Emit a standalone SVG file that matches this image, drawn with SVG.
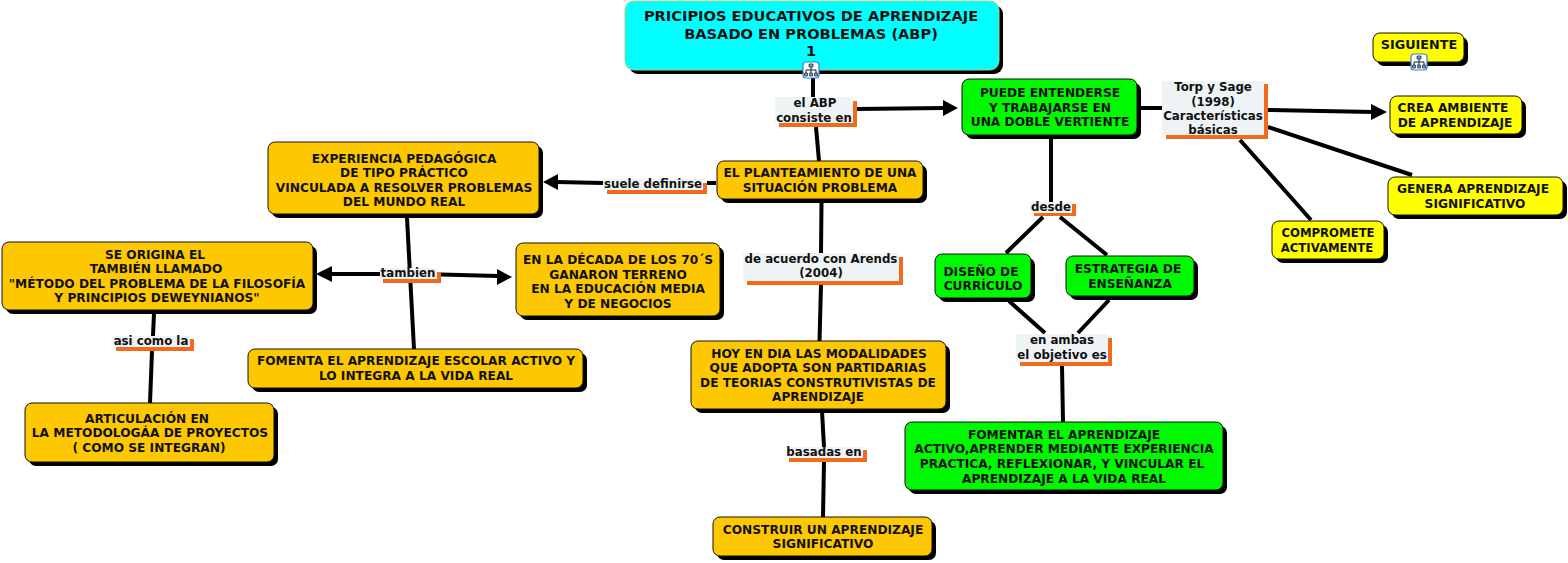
<svg xmlns="http://www.w3.org/2000/svg" width="1568" height="563" viewBox="0 0 1568 563">
<style>
text{font-family:"DejaVu Sans","Liberation Sans",sans-serif;font-weight:700;font-size:12.2px;fill:#111;text-anchor:middle}
.t{font-size:14.6px}
.l{font-size:11.8px}
.w{font-size:12.8px}
.v{font-size:11.7px}
.c{fill:none;stroke:#000;stroke-width:4}
.a{fill:#000}
.s{fill:#000}
.n{stroke:#111;stroke-width:1}
.o{fill:#fec800}.g{fill:#00f800}.y{fill:#ffff00}.b{fill:#00ffff;stroke:#a5d080}
.lb{fill:#eef3f5}.lo{fill:#f26a1b}
</style>
<defs>
<g id="ic"><rect x="-8" y="-8" width="16" height="16" rx="3" fill="#fff" stroke="#3a7fd0" stroke-width="1.200"/><path d="M-5 4v-4h10v4M0-3v7" fill="none" stroke="#123" stroke-width="1"/><path d="M-2-6h4v3h-4zM-6.500 3h3v3h-3zM-1.500 3h3v3h-3zM3.500 3h3v3h-3z" fill="#7d9cc8" stroke="#123" stroke-width=".7"/></g>
</defs>
<rect width="1568" height="563" fill="#fff"/>
<g id="connectors">
<path class="c" d="M813 72L813 97M816 127L819 161M857 109L944 108M707 183L716 183M603 183L557 182M821.500 203L821 253M821 285L819.500 341M822 411L824 447M824 462L823 517M407 218L414 349M331 274L380 274M441 274.500L498 276M154 313L153 336M152 351L150 403M1051 137L1051 202M1043 217L1006 253M1060 217L1107 255M1009 301L1045 333M1109 300L1078 333M1062 366L1063 422M1140 108L1162 108M1268 110L1373 112M1268 127L1412 175M1240 140L1311 220"/>
<path class="a" d="M958 108L943 100V116ZM543 182L558 174V190ZM316 274L332 266V282ZM512 277L497 269V285ZM1387 112L1371 104V120Z"/>
</g>
<g id="n-title"><rect class="s" x="629" y="5" width="374" height="69" rx="9"/><rect class="n b" x="625" y="1" width="374" height="69" rx="9"/><text class="t" x="811" y="21">PRICIPIOS EDUCATIVOS DE APRENDIZAJE</text><text class="t" x="811" y="38.500">BASADO EN PROBLEMAS (ABP)</text><text class="t" x="811" y="55.500">1</text><use href="#ic" x="811" y="70"/></g>
<g id="n-siguiente"><rect class="s" x="1377" y="37" width="91" height="29" rx="7"/><rect class="n y" x="1373" y="33" width="91" height="29" rx="7"/><text class="w" x="1419" y="49">SIGUIENTE</text><use href="#ic" x="1419" y="62"/></g>
<g id="n-puede"><rect class="s" x="966" y="83" width="175" height="56" rx="7"/><rect class="n g" x="962" y="79" width="175" height="56" rx="7"/><text x="1050" y="97">PUEDE ENTENDERSE</text><text x="1050" y="111.500">Y TRABAJARSE EN</text><text x="1050" y="126">UNA DOBLE VERTIENTE</text></g>
<g id="n-crea"><rect class="s" x="1394" y="100" width="132" height="38" rx="7"/><rect class="n y" x="1390" y="96" width="132" height="38" rx="7"/><text x="1453" y="112">CREA AMBIENTE</text><text x="1455" y="127">DE APRENDIZAJE</text></g>
<g id="n-genera"><rect class="s" x="1392" y="181" width="175" height="38" rx="7"/><rect class="n y" x="1388" y="177" width="175" height="38" rx="7"/><text x="1473" y="193">GENERA APRENDIZAJE</text><text x="1475" y="208">SIGNIFICATIVO</text></g>
<g id="n-compromete"><rect class="s" x="1276" y="225" width="112" height="38" rx="7"/><rect class="n y" x="1272" y="221" width="112" height="38" rx="7"/><text class="v" x="1328" y="237">COMPROMETE</text><text class="v" x="1327" y="252">ACTIVAMENTE</text></g>
<g id="n-experiencia"><rect class="s" x="272" y="146" width="271" height="72" rx="7"/><rect class="n o" x="268" y="142" width="271" height="72" rx="7"/><text x="404" y="162.500">EXPERIENCIA PEDAGÓGICA</text><text x="404" y="177">DE TIPO PRÁCTICO</text><text x="404" y="192">VINCULADA A RESOLVER PROBLEMAS</text><text x="404" y="206">DEL MUNDO REAL</text></g>
<g id="n-planteamiento"><rect class="s" x="721" y="165" width="206" height="38" rx="7"/><rect class="n o" x="717" y="161" width="206" height="38" rx="7"/><text x="820" y="177">EL PLANTEAMIENTO DE UNA</text><text x="820" y="192">SITUACIÓN PROBLEMA</text></g>
<g id="n-origina"><rect class="s" x="6" y="246" width="311" height="68" rx="7"/><rect class="n o" x="2" y="242" width="311" height="68" rx="7"/><text x="155" y="259">SE ORIGINA EL</text><text x="156" y="273">TAMBIÉN LLAMADO</text><text x="157" y="288">"MÉTODO DEL PROBLEMA DE LA FILOSOFÍA</text><text x="157" y="302">Y PRINCIPIOS DEWEYNIANOS"</text></g>
<g id="n-decada"><rect class="s" x="520" y="247" width="204" height="73" rx="7"/><rect class="n o" x="516" y="243" width="204" height="73" rx="7"/><text x="618" y="264">EN LA DÉCADA DE LOS 70´S</text><text x="618" y="279">GANARON TERRENO</text><text x="618" y="293">EN LA EDUCACIÓN MEDIA</text><text x="618" y="308">Y DE NEGOCIOS</text></g>
<g id="n-diseno"><rect class="s" x="939" y="258" width="96" height="44" rx="7"/><rect class="n g" x="935" y="254" width="96" height="44" rx="7"/><text x="981" y="276">DISEÑO DE</text><text x="983" y="290">CURRÍCULO</text></g>
<g id="n-estrategia"><rect class="s" x="1070" y="260" width="128" height="40" rx="7"/><rect class="n g" x="1066" y="256" width="128" height="40" rx="7"/><text x="1128" y="273">ESTRATEGIA DE</text><text x="1130" y="288">ENSEÑANZA</text></g>
<g id="n-fomenta"><rect class="s" x="252" y="353" width="335" height="39" rx="7"/><rect class="n o" x="248" y="349" width="335" height="39" rx="7"/><text x="416" y="365">FOMENTA EL APRENDIZAJE ESCOLAR ACTIVO Y</text><text x="416" y="380">LO INTEGRA A LA VIDA REAL</text></g>
<g id="n-hoy"><rect class="s" x="695" y="345" width="255" height="68" rx="7"/><rect class="n o" x="691" y="341" width="255" height="68" rx="7"/><text x="819" y="358">HOY EN DIA LAS MODALIDADES</text><text x="818" y="372">QUE ADOPTA SON PARTIDARIAS</text><text x="818" y="387">DE TEORIAS CONSTRUTIVISTAS DE</text><text x="818" y="401">APRENDIZAJE</text></g>
<g id="n-articulacion"><rect class="s" x="29" y="407" width="249" height="59" rx="7"/><rect class="n o" x="25" y="403" width="249" height="59" rx="7"/><text x="147" y="423">ARTICULACIÓN EN</text><text x="150" y="437">LA METODOLOGÁA DE PROYECTOS</text><text x="149" y="452">( COMO SE INTEGRAN)</text></g>
<g id="n-fomentar"><rect class="s" x="909" y="426" width="318" height="68" rx="7"/><rect class="n g" x="905" y="422" width="318" height="68" rx="7"/><text x="1064" y="439">FOMENTAR EL APRENDIZAJE</text><text x="1064" y="453">ACTIVO,APRENDER MEDIANTE EXPERIENCIA</text><text x="1062" y="468">PRACTICA, REFLEXIONAR, Y VINCULAR EL</text><text x="1064" y="483">APRENDIZAJE A LA VIDA REAL</text></g>
<g id="n-construir"><rect class="s" x="717" y="521" width="219" height="39" rx="7"/><rect class="n o" x="713" y="517" width="219" height="39" rx="7"/><text x="823" y="534">CONSTRUIR UN APRENDIZAJE</text><text x="823" y="548">SIGNIFICATIVO</text></g>
<g id="l-abp"><path class="lo" d="M779 101h78v26h-78z"/><rect class="lb" x="775" y="97" width="78" height="26"/><text class="l" x="815" y="107">el ABP</text><text class="l" x="814" y="122">consiste en</text></g>
<g id="l-suele"><path class="lo" d="M607 183h100v11h-100z"/><rect class="lb" x="603" y="179" width="100" height="11"/><text class="l" x="653" y="188">suele definirse</text></g>
<g id="l-arends"><path class="lo" d="M747 257h156v28h-156z"/><rect class="lb" x="743" y="253" width="156" height="28"/><text class="l" x="821" y="263">de acuerdo con Arends</text><text class="l" x="821" y="277">(2004)</text></g>
<g id="l-tambien"><path class="lo" d="M383 272h58v11h-58z"/><rect class="lb" x="380" y="268" width="57" height="11"/><text class="l" x="408" y="277">tambien</text></g>
<g id="l-asi"><path class="lo" d="M116 339h78v12h-78z"/><rect class="lb" x="113" y="336" width="77" height="11"/><text class="l" x="151" y="345">asi como la</text></g>
<g id="l-desde"><path class="lo" d="M1034 204h42v12h-42z"/><rect class="lb" x="1030" y="202" width="42" height="11"/><text class="l" x="1051" y="211">desde</text></g>
<g id="l-ambas"><path class="lo" d="M1020 338h92v28h-92z"/><rect class="lb" x="1016" y="334" width="92" height="28"/><text class="l" x="1062" y="344">en ambas</text><text class="l" x="1062" y="359">el objetivo es</text></g>
<g id="l-basadas"><path class="lo" d="M789 450h78v12h-78z"/><rect class="lb" x="787" y="447" width="76" height="11"/><text class="l" x="824" y="456">basadas en</text></g>
<g id="l-torp"><path class="lo" d="M1166 84h102v55h-102z"/><rect class="lb" x="1162" y="81" width="102" height="54"/><text class="l" x="1213" y="91">Torp y Sage</text><text class="l" x="1213" y="106">(1998)</text><text class="l" x="1213" y="120">Características</text><text class="l" x="1213" y="134">básicas</text></g>
</svg>
